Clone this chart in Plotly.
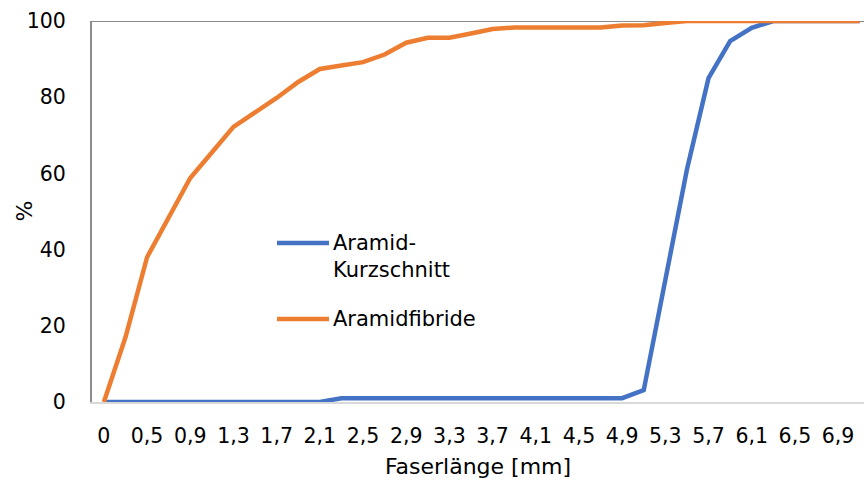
import plotly.graph_objects as go

# Fiber length classes [mm] (category axis, German decimal comma)
laengen = ["0", "0,3", "0,5", "0,7", "0,9", "1,1", "1,3", "1,5", "1,7", "1,9",
           "2,1", "2,3", "2,5", "2,7", "2,9", "3,1", "3,3", "3,5", "3,7", "3,9",
           "4,1", "4,3", "4,5", "4,7", "4,9", "5,1", "5,3", "5,5", "5,7", "5,9",
           "6,1", "6,3", "6,5", "6,7", "6,9", "7,1"]

# Cumulative share [%]
kurzschnitt = [0, 0, 0, 0, 0, 0, 0, 0, 0, 0,
               0, 1, 1, 1, 1, 1, 1, 1, 1, 1,
               1, 1, 1, 1, 1, 3.1, 32, 61, 85, 94.7,
               98.2, 100, 100, 100, 100, 100]
fibride = [0, 17, 38, 48.4, 58.8, 65.5, 72.2, 76, 79.8, 84,
           87.4, 88.3, 89.2, 91.2, 94.3, 95.6, 95.6, 96.7, 97.9, 98.3,
           98.3, 98.3, 98.3, 98.3, 98.8, 98.9, 99.5, 100, 100, 100,
           100, 100, 100, 100, 100, 100]

tick_labels = laengen[::2]

namen = ["Aramid-<br>Kurzschnitt", "Aramidfibride"]
farben = ["#4472C4", "#ED7D31"]

W, H = 864, 482
ML, MR, MT, MB = 92, 0, 21, 80
PW, PH = W - ML - MR, H - MT - MB

FONT = "DejaVu Sans"

fig = go.Figure()
for name, ys, col in zip(namen, [kurzschnitt, fibride], farben):
    fig.add_trace(go.Scatter(
        x=laengen, y=ys, mode="lines", name=name,
        line=dict(color=col, width=4.5),
        cliponaxis=False, showlegend=False,
    ))


def px_x(px):
    return (px - ML) / PW


def px_y(py):
    return 1 - (py - MT) / PH


# top frame line at 100 %
fig.add_shape(type="line", xref="paper", yref="y", x0=0, x1=1, y0=100, y1=100,
              line=dict(color="#8c8c8c", width=2), layer="below")

# legend drawn inside the plot area
leg_items = [(243, 256, namen[0], farben[0]), (319, 319, namen[1], farben[1])]
for ly, ty, name, col in leg_items:
    fig.add_shape(type="line", xref="paper", yref="paper",
                  x0=px_x(277), x1=px_x(329), y0=px_y(ly), y1=px_y(ly),
                  line=dict(color=col, width=4.5))
    fig.add_annotation(xref="paper", yref="paper", x=px_x(331), y=px_y(ty),
                       xanchor="left", yanchor="middle", align="left",
                       text=name, showarrow=False,
                       font=dict(family=FONT, size=21, color="#000000"))

# y-axis title
fig.add_annotation(xref="paper", yref="paper", x=px_x(24), y=0.5,
                   xanchor="center", yanchor="middle", textangle=-90,
                   text="%", showarrow=False,
                   font=dict(family=FONT, size=22, color="#000000"))

fig.update_layout(
    width=W, height=H,
    margin=dict(l=ML, r=MR, t=MT, b=MB, pad=0),
    paper_bgcolor="white", plot_bgcolor="white",
    font=dict(family=FONT, color="#000000"),
    showlegend=False,
    xaxis=dict(
        type="category", range=[-0.55, 35.2],
        tickmode="array", tickvals=tick_labels, ticktext=tick_labels,
        tickfont=dict(size=20.5), ticks="", ticklabelstandoff=14,
        showgrid=False, zeroline=False,
        showline=True, linecolor="#d9d9d9", linewidth=2,
        title=dict(text="Faserlänge [mm]", font=dict(size=22), standoff=12),
    ),
    yaxis=dict(
        range=[0, 100], tickmode="linear", tick0=0, dtick=20,
        tickfont=dict(size=20.5), ticks="", ticklabelstandoff=20,
        showgrid=False, zeroline=False,
        showline=True, linecolor="#8c8c8c", linewidth=2,
    ),
)

fig.write_html("out.html")
